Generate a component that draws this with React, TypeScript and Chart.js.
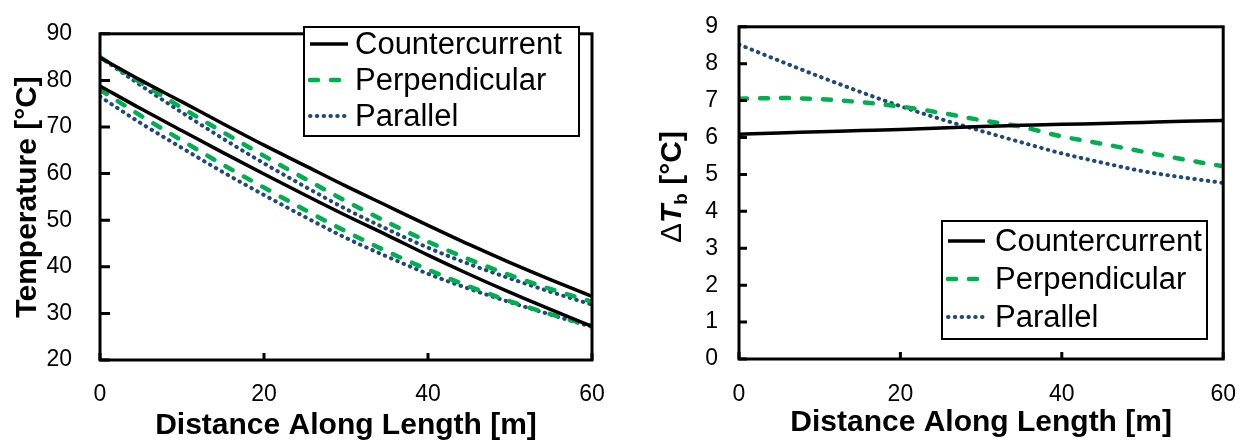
import React, { useEffect, useRef } from "react";
import { Chart, registerables } from "chart.js";

Chart.register(...registerables);

// ---------------- data ----------------
const distance = [0, 5, 10, 15, 20, 25, 30, 35, 40, 45, 50, 55, 60];

// Left chart: temperatures [°C]
const ccHot = [84.9, 80.0, 75.4, 70.7, 66.1, 61.7, 57.3, 53.1, 48.9, 44.8, 40.9, 37.2, 33.7];
const ccCold = [78.8, 73.9, 69.2, 64.5, 59.9, 55.4, 51.0, 46.8, 42.5, 38.4, 34.5, 30.8, 27.2];
const perpHot = [85.0, 79.5, 74.1, 68.9, 63.8, 58.9, 54.1, 49.6, 45.4, 41.6, 38.2, 35.2, 32.5];
const perpCold = [78.0, 72.4, 67.1, 61.9, 57.0, 52.2, 47.6, 43.3, 39.4, 35.8, 32.6, 29.8, 27.3];
const parHot = [85.0, 78.9, 73.1, 67.5, 62.2, 57.2, 52.4, 48.1, 44.1, 40.6, 37.5, 34.6, 31.9];
const parCold = [76.5, 70.8, 65.5, 60.3, 55.4, 50.7, 46.2, 42.2, 38.5, 35.3, 32.4, 29.7, 27.1];

// Right chart: ΔT_b [°C]
const ccDelta = [6.09, 6.12, 6.16, 6.19, 6.22, 6.26, 6.3, 6.33, 6.36, 6.38, 6.41, 6.44, 6.46];
const perpDelta = [7.05, 7.07, 7.04, 6.96, 6.84, 6.67, 6.47, 6.29, 6.03, 5.83, 5.62, 5.41, 5.22];
const parDelta = [8.52, 8.08, 7.65, 7.24, 6.85, 6.5, 6.18, 5.87, 5.57, 5.32, 5.09, 4.92, 4.77];

const seriesNames = ["Countercurrent", "Perpendicular", "Parallel"];
const xTicks = [0, 20, 40, 60];
const xTitle = "Distance Along Length [m]";
const leftYTitle = "Temperature [°C]";

// ---------------- styles ----------------
const FONT = '"Liberation Sans", Arial, sans-serif';
const TICK_SIZE = 23;
const TITLE_SIZE = 30;
const styles = [
  { borderColor: "#000000", borderWidth: 3.5, borderDash: [], borderCapStyle: "butt" },
  { borderColor: "#00B050", borderWidth: 4.5, borderDash: [8, 13], borderCapStyle: "round" },
  { borderColor: "#1F497D", borderWidth: 4, borderDash: [0.5, 6.3], borderCapStyle: "round" },
];

const pts = (arr: number[]) => distance.map((d, i) => ({ x: d, y: arr[i] }));

function ds(label: string, arr: number[], k: number, inLegend: boolean) {
  return {
    label,
    data: pts(arr),
    ...styles[k],
    pointRadius: 0,
    cubicInterpolationMode: "monotone",
    fill: false,
    inLegend,
  };
}

// ---------------- plugins ----------------
const framePlugin = {
  id: "frame",
  afterDatasetsDraw(chart: any, _a: any, opts: any) {
    const { ctx, chartArea: a, scales } = chart;
    ctx.save();
    ctx.strokeStyle = "#000";
    ctx.lineWidth = 3;
    ctx.lineCap = "butt";
    ctx.setLineDash([]);
    ctx.beginPath();
    scales.x.ticks.forEach((t: any) => {
      const px = scales.x.getPixelForValue(t.value);
      ctx.moveTo(px, a.bottom);
      ctx.lineTo(px, a.bottom - opts.xTick);
    });
    scales.y.ticks.forEach((t: any) => {
      const py = scales.y.getPixelForValue(t.value);
      ctx.moveTo(a.left, py);
      ctx.lineTo(a.left + opts.yTick, py);
    });
    ctx.stroke();
    ctx.strokeRect(a.left, a.top, a.right - a.left, a.bottom - a.top);
    ctx.restore();
  },
};

const boxLegendPlugin = {
  id: "boxLegend",
  afterDraw(chart: any, _a: any, o: any) {
    const { ctx } = chart;
    ctx.save();
    ctx.fillStyle = "#fff";
    ctx.fillRect(o.x, o.y, o.w, o.h);
    ctx.strokeStyle = "#000";
    ctx.lineWidth = 2;
    ctx.setLineDash([]);
    ctx.strokeRect(o.x, o.y, o.w, o.h);
    const items = chart.data.datasets.filter((d: any) => d.inLegend);
    items.forEach((d: any, i: number) => {
      const cy = o.rows[i];
      ctx.beginPath();
      ctx.strokeStyle = d.borderColor;
      ctx.lineWidth = d.borderWidth;
      ctx.lineCap = d.borderCapStyle;
      ctx.setLineDash(d.borderDash);
      ctx.moveTo(o.s1, cy);
      ctx.lineTo(o.s2, cy);
      ctx.stroke();
      ctx.setLineDash([]);
      ctx.fillStyle = "#000";
      ctx.font = `${o.fontSize}px ${FONT}`;
      ctx.textBaseline = "middle";
      ctx.textAlign = "left";
      ctx.fillText(d.label, o.tx, cy + 1);
    });
    ctx.restore();
  },
};

const deltaTitlePlugin = {
  id: "deltaTitle",
  afterDraw(chart: any, _a: any, o: any) {
    if (!o || !o.show) return;
    const { ctx } = chart;
    ctx.save();
    ctx.fillStyle = "#000";
    ctx.textBaseline = "alphabetic";
    ctx.textAlign = "left";
    ctx.translate(o.x, o.y);
    ctx.rotate(-Math.PI / 2);
    let x = 0;
    ctx.font = `${TITLE_SIZE}px ${FONT}`;
    ctx.fillText("Δ", x, 0);
    x += ctx.measureText("Δ").width;
    ctx.font = `italic bold ${TITLE_SIZE}px ${FONT}`;
    ctx.fillText("T", x, 0);
    x += ctx.measureText("T").width;
    ctx.font = `bold 19px ${FONT}`;
    ctx.fillText("b", x, 6);
    x += ctx.measureText("b").width;
    ctx.font = `bold ${TITLE_SIZE}px ${FONT}`;
    ctx.fillText(" [°C]", x, 0);
    ctx.restore();
  },
};

// ---------------- config builders ----------------
function baseConfig(p: any) {
  return {
    type: "line",
    data: { datasets: p.datasets },
    plugins: [framePlugin, boxLegendPlugin, deltaTitlePlugin],
    options: {
      responsive: false,
      animation: false,
      layout: { padding: { top: p.top, right: p.right, left: 0, bottom: 0 } },
      plugins: {
        legend: { display: false },
        tooltip: { enabled: false },
        frame: { xTick: 7, yTick: p.yTick },
        boxLegend: p.legend,
        deltaTitle: p.deltaTitle,
      },
      scales: {
        x: {
          type: "linear",
          min: 0,
          max: 60,
          afterBuildTicks: (s: any) => {
            s.ticks = xTicks.map((v) => ({ value: v }));
          },
          afterFit: (s: any) => {
            s.height = p.xHeight;
          },
          grid: { display: false },
          border: { display: false },
          ticks: {
            color: "#000",
            font: { family: FONT, size: TICK_SIZE },
            padding: p.xPad,
            maxRotation: 0,
          },
          title: {
            display: true,
            text: xTitle,
            color: "#000",
            font: { family: FONT, size: TITLE_SIZE, weight: "bold" },
            padding: { top: 0, bottom: p.xTitlePad },
          },
        },
        y: {
          type: "linear",
          min: p.yMin,
          max: p.yMax,
          afterFit: (s: any) => {
            s.width = p.yWidth;
          },
          grid: { display: false },
          border: { display: false },
          ticks: {
            stepSize: p.yStep,
            color: "#000",
            font: { family: FONT, size: TICK_SIZE },
            padding: p.yPad,
          },
          title: {
            display: !!p.yTitle,
            text: p.yTitle || "",
            color: "#000",
            font: { family: FONT, size: TITLE_SIZE, weight: "bold" },
            padding: { top: 10, bottom: 0 },
          },
        },
      },
    },
  };
}

const leftConfig = () =>
  baseConfig({
    datasets: [
      ds(seriesNames[0], ccHot, 0, true),
      ds(seriesNames[0], ccCold, 0, false),
      ds(seriesNames[1], perpHot, 1, true),
      ds(seriesNames[1], perpCold, 1, false),
      ds(seriesNames[2], parHot, 2, true),
      ds(seriesNames[2], parCold, 2, false),
    ],
    top: 17,
    right: 33,
    xHeight: 84,
    yWidth: 100,
    xPad: 13,
    yPad: 20,
    yTick: 10,
    xTitlePad: 0,
    yMin: 20,
    yMax: 90,
    yStep: 10,
    yTitle: leftYTitle,
    legend: { x: 304, y: 27, w: 275, h: 109, rows: [44, 80, 116], s1: 310, s2: 348, tx: 355, fontSize: 31 },
    deltaTitle: { show: false },
  });

const rightConfig = () =>
  baseConfig({
    datasets: [
      ds(seriesNames[0], ccDelta, 0, true),
      ds(seriesNames[1], perpDelta, 1, true),
      ds(seriesNames[2], parDelta, 2, true),
    ],
    top: 15,
    right: 23,
    xHeight: 85,
    yWidth: 114,
    xPad: 14,
    yPad: 13,
    yTick: 8,
    xTitlePad: 3,
    yMin: 0,
    yMax: 9,
    yStep: 1,
    yTitle: "",
    legend: { x: 317, y: 221, w: 265, h: 118, rows: [241, 279, 317], s1: 323, s2: 360, tx: 370, fontSize: 31 },
    deltaTitle: { show: true, x: 56, y: 243 },
  });

function ChartCanvas({ make, left }: { make: () => any; left: number }) {
  const ref = useRef<HTMLCanvasElement | null>(null);
  useEffect(() => {
    if (!ref.current) return;
    const chart = new Chart(ref.current, make());
    return () => chart.destroy();
  }, []);
  return (
    <canvas
      ref={ref}
      width={625}
      height={444}
      style={{ position: "absolute", left, top: 0, width: 625, height: 444 }}
    />
  );
}

export default function App() {
  return (
    <div style={{ position: "absolute", left: 0, top: 0, width: 1250, height: 444, background: "#fff" }}>
      <ChartCanvas make={leftConfig} left={0} />
      <ChartCanvas make={rightConfig} left={625} />
    </div>
  );
}
